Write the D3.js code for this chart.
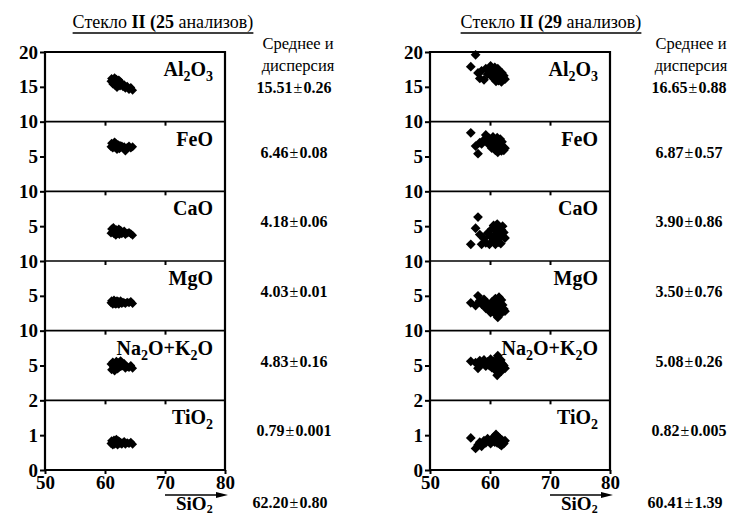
<!doctype html>
<html>
<head>
<meta charset="utf-8">
<title>Стекло II</title>
<script src="https://d3js.org/d3.v7.min.js"></script>
<style>
  body { margin: 0; background: #fff; }
  svg text { font-family: "Liberation Serif", "DejaVu Serif", "Times New Roman", serif; fill: #000; }
  .tick text { font-weight: bold; font-size: 19px; }
</style>
</head>
<body>
<script>
// oxides, top to bottom
var oxides = ["Al2O3", "FeO", "CaO", "MgO", "Na2O+K2O", "TiO2"];
var yDomains = [[10, 20], [0, 10], [0, 10], [0, 10], [0, 10], [0, 2]];
var yTicks = [[15, 20], [5, 10], [5, 10], [5, 10], [5, 10], [0, 1, 2]];
var xTicks = [50, 60, 70, 80];

// glass II, 25 analyses
var sio2A = [61.0, 61.1, 61.3, 61.4, 61.5, 61.6, 61.7, 61.8, 61.9, 62.0, 62.0, 62.1, 62.2,
             62.3, 62.4, 62.5, 62.6, 62.8, 63.0, 63.2, 63.4, 63.7, 64.0, 64.3, 64.6];
var al2o3A = [15.8, 16.2, 15.4, 16.0, 15.6, 16.3, 15.2, 15.9, 16.1, 15.5, 14.9, 15.8, 15.3,
              16.0, 15.6, 15.1, 15.7, 15.4, 15.0, 15.3, 14.8, 15.1, 14.6, 14.9, 14.5];
var feoA = [6.4, 6.9, 6.2, 6.7, 6.5, 7.1, 6.3, 6.6, 6.8, 6.0, 6.5, 6.3, 6.7,
            6.4, 6.1, 6.6, 6.3, 6.5, 6.2, 6.4, 5.8, 6.3, 6.5, 6.2, 6.4];
var caoA = [4.0, 4.6, 4.2, 4.8, 3.9, 4.4, 4.1, 3.7, 4.5, 4.2, 3.9, 4.3, 4.0,
            4.6, 3.8, 4.2, 4.4, 3.9, 4.1, 4.3, 3.8, 4.0, 4.1, 3.9, 3.7];
var mgoA = [4.0, 4.3, 3.8, 4.1, 4.4, 3.9, 4.2, 3.8, 4.1, 4.3, 3.9, 4.0, 4.2,
            3.8, 4.1, 4.0, 4.3, 3.9, 4.1, 4.0, 3.9, 4.1, 4.0, 4.2, 3.9];
var alkA = [5.2, 4.4, 5.5, 4.8, 5.0, 4.2, 5.3, 4.6, 5.6, 4.9, 5.1, 4.5, 5.4,
            4.7, 5.2, 4.8, 5.7, 4.9, 5.0, 5.3, 4.6, 4.8, 4.7, 5.0, 4.6];
var tio2A = [0.76, 0.84, 0.72, 0.80, 0.86, 0.74, 0.82, 0.78, 0.88, 0.76, 0.80, 0.72, 0.84,
             0.78, 0.82, 0.76, 0.80, 0.74, 0.78, 0.82, 0.74, 0.78, 0.76, 0.80, 0.74];
var meansA = ["15.51", "6.46", "4.18", "4.03", "4.83", "0.79", "62.20"];
var dispA = ["0.26", "0.08", "0.06", "0.01", "0.16", "0.001", "0.80"];

// glass II, 29 analyses
var sio2B = [56.8, 57.6, 58.0, 58.3, 58.6, 59.0, 59.3, 59.6, 59.9, 60.1, 60.3, 60.5, 60.6, 60.8, 60.9,
             61.0, 61.1, 61.2, 61.3, 61.4, 61.5, 61.6, 61.7, 61.8, 61.9, 62.0, 62.1, 62.3, 62.5];
var al2o3B = [17.9, 19.6, 17.0, 16.2, 17.3, 16.0, 17.6, 16.8, 17.2, 18.0, 16.5, 17.5, 16.2, 17.8, 16.6,
              15.8, 17.0, 16.3, 17.6, 15.9, 16.8, 17.2, 16.0, 16.5, 15.7, 17.0, 16.3, 16.6, 16.1];
var feoB = [8.4, 6.5, 5.4, 7.0, 6.8, 7.4, 8.1, 6.9, 7.6, 7.2, 6.2, 7.8, 6.6, 7.4, 5.9,
            7.0, 6.4, 7.7, 5.6, 6.8, 7.3, 6.1, 7.5, 6.6, 5.8, 7.1, 6.4, 5.9, 6.2];
var caoB = [2.4, 4.7, 6.3, 3.8, 2.4, 3.2, 2.6, 4.0, 2.4, 3.5, 4.6, 2.9, 5.1, 3.7, 2.4,
            4.4, 3.1, 5.3, 3.9, 2.7, 4.8, 3.4, 4.2, 2.5, 4.5, 3.6, 5.0, 4.1, 3.3];
var mgoB = [4.0, 3.6, 5.0, 4.3, 3.8, 4.5, 3.2, 3.9, 3.0, 2.6, 4.1, 3.4, 2.8, 3.7, 4.6,
            3.1, 2.2, 4.2, 1.9, 3.5, 4.8, 2.9, 3.9, 3.3, 4.4, 2.6, 3.7, 3.1, 2.8];
var alkB = [5.6, 5.4, 4.6, 5.7, 5.2, 5.8, 4.9, 5.5, 5.0, 5.9, 4.7, 5.3, 5.6, 4.4, 5.1,
            5.7, 4.8, 3.6, 6.4, 5.2, 4.5, 5.5, 4.9, 5.8, 4.2, 5.3, 4.7, 5.0, 4.6];
var tio2B = [0.92, 0.62, 0.72, 0.80, 0.68, 0.84, 0.78, 0.90, 0.82, 0.76, 0.88, 0.84, 0.94, 0.80, 0.86,
             1.02, 0.92, 0.78, 0.96, 0.84, 0.88, 0.74, 0.90, 0.82, 0.70, 0.86, 0.80, 0.76, 0.84];
var meansB = ["16.65", "6.87", "3.90", "3.50", "5.08", "0.82", "60.41"];
var dispB = ["0.88", "0.57", "0.86", "0.76", "0.26", "0.005", "1.39"];

var width = 742, height = 515;
var top0 = 52, bottom0 = 470;
var rowH = (bottom0 - top0) / oxides.length;

var svg = d3.select("body").append("svg")
    .attr("width", width)
    .attr("height", height);

// writes "Al2O3" style formulas with digit subscripts
function formula(sel, s, subSize, shift) {
    var parts = s.match(/\d+|\D+/g);
    var down = false;
    parts.forEach(function(p) {
        var isSub = /\d/.test(p);
        var t = sel.append("tspan").text(p);
        if (isSub && !down) { t.attr("dy", shift).style("font-size", subSize); down = true; }
        else if (!isSub && down) { t.attr("dy", -shift); down = false; }
    });
}

function stat(sel, m, d) {
    sel.append("tspan").style("font-weight", "bold").text(m);
    sel.append("tspan").attr("dx", 1).text("±");
    sel.append("tspan").attr("dx", 1).style("font-weight", "bold").text(d);
}

function drawPanel(p) {
    var g = svg.append("g");
    var x = d3.scaleLinear().domain([50, 80]).range([p.x0, p.x1]);
    var series = [p.al2o3, p.feo, p.cao, p.mgo, p.alk, p.tio2];

    // title
    var title = g.append("text")
        .attr("x", p.titleX)
        .attr("y", 28)
        .attr("text-anchor", "middle")
        .style("font-size", "18px");
    title.append("tspan").text("Стекло ");
    title.append("tspan").style("font-weight", "bold").text("II (" + p.n);
    title.append("tspan").text(" анализов)");
    var tw = title.node().getComputedTextLength();
    g.append("line")
        .attr("x1", p.titleX - tw / 2).attr("x2", p.titleX + tw / 2)
        .attr("y1", 33).attr("y2", 33)
        .attr("stroke", "#000").attr("stroke-width", 1.3);

    // header of stats column
    g.append("text").attr("x", p.headX).attr("y", 49)
        .attr("text-anchor", "middle").style("font-size", "16.5px").text("Среднее и");
    g.append("text").attr("x", p.headX).attr("y", 71)
        .attr("text-anchor", "middle").style("font-size", "16.5px").text("дисперсия");

    var sym = d3.symbol().type(d3.symbolSquare).size(p.msize);

    oxides.forEach(function(ox, i) {
        var t = top0 + i * rowH, b = t + rowH;
        var y = d3.scaleLinear().domain(yDomains[i]).range([b, t]);

        // left axis
        g.append("g")
            .attr("transform", "translate(" + p.x0 + ",0)")
            .call(d3.axisLeft(y).tickValues(yTicks[i]).tickSize(5).tickPadding(2).tickFormat(d3.format("d")))
            .call(function(a) {
                a.select(".domain").remove();
                a.selectAll("line").attr("stroke-width", 2);
            });

        // small ticks at 60 and 70 under each separator
        if (i > 0) {
            g.append("g")
                .attr("transform", "translate(0," + t + ")")
                .call(d3.axisBottom(x).tickValues([60, 70]).tickSize(4).tickFormat(""))
                .call(function(a) {
                    a.select(".domain").remove();
                    a.selectAll("line").attr("stroke-width", 2);
                });
        }

        // separator line
        g.append("line")
            .attr("x1", p.x0).attr("x2", p.x1)
            .attr("y1", t).attr("y2", t)
            .attr("stroke", "#000").attr("stroke-width", i === 0 ? 2.2 : 1.6);

        // panel label
        var lab = g.append("text")
            .attr("x", p.x1 - 12)
            .attr("y", t + 24)
            .attr("text-anchor", "end")
            .style("font-weight", "bold")
            .style("font-size", "20px");
        formula(lab, ox, "14px", 5);

        // points
        g.selectAll(null)
            .data(series[i])
            .enter()
            .append("path")
            .attr("d", sym)
            .attr("transform", function(d, k) {
                return "translate(" + x(p.sio2[k]) + "," + y(d) + ") rotate(45)";
            })
            .attr("fill", "#000");

        // mean and dispersion
        var st = g.append("text")
            .attr("x", p.statsX)
            .attr("y", t + (i === 0 ? 41 : 36))
            .attr("text-anchor", "middle")
            .style("font-size", "16px");
        stat(st, p.means[i], p.disp[i]);
    });

    // bottom axis
    g.append("g")
        .attr("transform", "translate(0," + bottom0 + ")")
        .call(d3.axisBottom(x).tickValues(xTicks).tickSize(4).tickPadding(2))
        .call(function(a) {
            a.select(".domain").remove();
            a.selectAll("line").attr("stroke-width", 2);
        });

    // frame
    g.append("line").attr("x1", p.x0).attr("x2", p.x1).attr("y1", bottom0).attr("y2", bottom0)
        .attr("stroke", "#000").attr("stroke-width", 2.2);
    g.append("line").attr("x1", p.x0).attr("x2", p.x0).attr("y1", top0 - 1).attr("y2", bottom0 + 1)
        .attr("stroke", "#000").attr("stroke-width", 2.2);
    g.append("line").attr("x1", p.x1).attr("x2", p.x1).attr("y1", top0 - 1).attr("y2", bottom0 + 1)
        .attr("stroke", "#000").attr("stroke-width", 2.2);

    // SiO2 arrow
    var ay = 495;
    g.append("line")
        .attr("x1", x(70)).attr("x2", x(80) - 4)
        .attr("y1", ay).attr("y2", ay)
        .attr("stroke", "#000").attr("stroke-width", 1.5);
    g.append("path")
        .attr("d", "M" + (x(80) + 3) + "," + ay + "L" + (x(80) - 9) + "," + (ay - 3) +
                   "L" + (x(80) - 9) + "," + (ay + 3) + "Z")
        .attr("fill", "#000");
    var si = g.append("text")
        .attr("x", x(70) + 11)
        .attr("y", 510)
        .style("font-weight", "bold")
        .style("font-size", "19px");
    formula(si, "SiO2", "12px", 3);

    var sst = g.append("text")
        .attr("x", p.statsX - 4)
        .attr("y", 508)
        .attr("text-anchor", "middle")
        .style("font-size", "16px");
    stat(sst, p.means[6], p.disp[6]);
}

drawPanel({
    x0: 45, x1: 225, titleX: 163, headX: 298, statsX: 294, n: 25, msize: 40,
    sio2: sio2A, al2o3: al2o3A, feo: feoA, cao: caoA, mgo: mgoA, alk: alkA, tio2: tio2A,
    means: meansA, disp: dispA
});
drawPanel({
    x0: 430, x1: 610, titleX: 551, headX: 691, statsX: 689, n: 29, msize: 48,
    sio2: sio2B, al2o3: al2o3B, feo: feoB, cao: caoB, mgo: mgoB, alk: alkB, tio2: tio2B,
    means: meansB, disp: dispB
});
</script>
</body>
</html>
